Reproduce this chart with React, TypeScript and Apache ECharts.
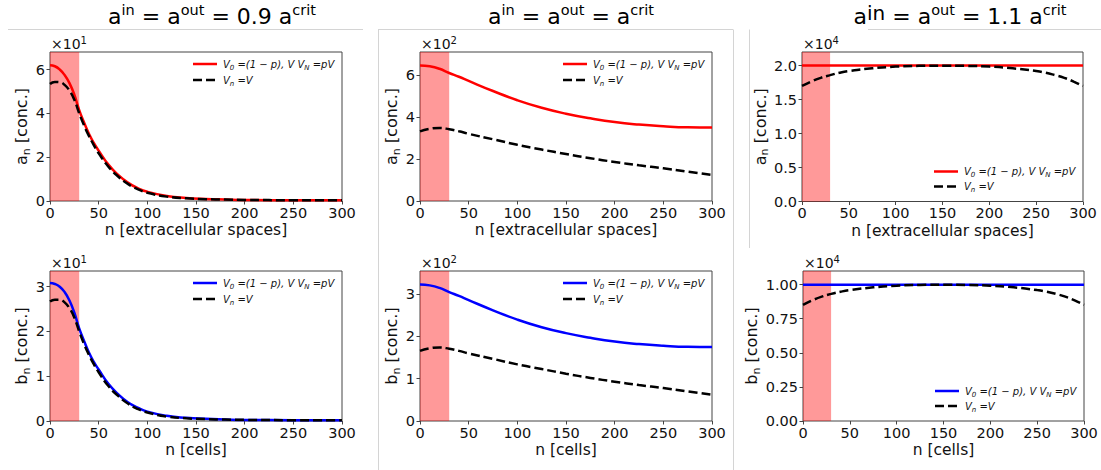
import React, { useEffect, useRef } from 'react';
import * as echarts from 'echarts';

// ---------- data ----------
const xTicks = [0, 50, 100, 150, 200, 250, 300];

// subcritical (0.9 a_crit)
const nSubcrit = [0, 5, 10, 15, 20, 25, 30, 35, 40, 45, 50, 60, 70, 80, 90, 100, 120, 140, 160, 180, 200, 250, 300];
const aSubcritModel = [6.2, 6.15, 6.0, 5.75, 5.38, 4.85, 4.15, 3.58, 3.07, 2.65, 2.3, 1.66, 1.19, 0.84, 0.59, 0.42, 0.23, 0.14, 0.095, 0.07, 0.05, 0.035, 0.03];
const aSubcritUniform = [5.34, 5.43, 5.42, 5.3, 5.04, 4.62, 4.0, 3.45, 2.97, 2.55, 2.18, 1.57, 1.12, 0.78, 0.54, 0.38, 0.2, 0.12, 0.085, 0.065, 0.05, 0.035, 0.03];
const bSubcritModel = [3.08, 3.06, 3.0, 2.88, 2.69, 2.42, 2.07, 1.79, 1.53, 1.32, 1.15, 0.83, 0.6, 0.42, 0.3, 0.21, 0.115, 0.07, 0.048, 0.035, 0.025, 0.018, 0.015];
const bSubcritUniform = [2.67, 2.71, 2.71, 2.65, 2.52, 2.31, 2.0, 1.72, 1.48, 1.27, 1.09, 0.78, 0.56, 0.39, 0.27, 0.19, 0.1, 0.06, 0.042, 0.032, 0.025, 0.018, 0.015];

// critical (a_crit)
const nCrit = [0, 10, 20, 30, 40, 50, 75, 100, 125, 150, 175, 200, 225, 250, 275, 300];
const aCritModel = [6.46, 6.42, 6.3, 6.1, 5.92, 5.72, 5.24, 4.8, 4.44, 4.16, 3.94, 3.76, 3.64, 3.56, 3.51, 3.5];
const aCritUniform = [3.32, 3.44, 3.48, 3.42, 3.32, 3.2, 2.94, 2.68, 2.45, 2.24, 2.04, 1.86, 1.7, 1.56, 1.4, 1.24];
const bCritModel = [3.23, 3.21, 3.15, 3.05, 2.96, 2.86, 2.62, 2.4, 2.22, 2.08, 1.97, 1.88, 1.82, 1.78, 1.755, 1.75];
const bCritUniform = [1.66, 1.72, 1.74, 1.71, 1.66, 1.6, 1.47, 1.34, 1.23, 1.12, 1.02, 0.93, 0.85, 0.78, 0.7, 0.62];

// supercritical (1.1 a_crit)
const nFlat = [0, 300];
const aSupercritModel = [2.0, 2.0];
const bSupercritModel = [1.0, 1.0];
const nSupercrit = [0, 10, 20, 30, 40, 50, 75, 100, 125, 150, 175, 200, 225, 250, 260, 270, 280, 290, 300];
const aSupercritUniform = [1.7, 1.765, 1.82, 1.86, 1.895, 1.92, 1.96, 1.985, 1.996, 1.999, 1.996, 1.985, 1.96, 1.92, 1.895, 1.86, 1.82, 1.765, 1.7];
const bSupercritUniform = [0.852, 0.885, 0.912, 0.932, 0.948, 0.96, 0.98, 0.992, 0.998, 0.9995, 0.998, 0.992, 0.98, 0.96, 0.948, 0.932, 0.912, 0.885, 0.852];

const yTicksA09 = [0, 2, 4, 6];
const yTicksACrit = [0, 2, 4, 6];
const yTicksASup = [0, 0.5, 1.0, 1.5, 2.0];
const yTicksB09 = [0, 1, 2, 3];
const yTicksBCrit = [0, 1, 2, 3];
const yTicksBSup = [0, 0.25, 0.5, 0.75, 1.0];

const sourceRegion = [0, 30];

// ---------- styling ----------
const FONT = 'DejaVu Sans';
const RED = '#ff0000';
const BLUE = '#0000ff';
const TXT = '#111111';
const SPINE = '#444444';
const SEP = '#d4d4d4';

type Panel = {
  n: number[]; model: number[]; nU: number[]; uniform: number[];
  color: string; yMax: number; yTicks: number[]; interval: number; dec: number; exp: string;
  yVar: string; xName: string; legendAt: 'top' | 'bottom';
  box: { left: number; top: number; width: number; height: number }; nameGap: number;
};

const panels: Panel[] = [
  { n: nSubcrit, model: aSubcritModel, nU: nSubcrit, uniform: aSubcritUniform, color: RED, yMax: 6.8, yTicks: yTicksA09, interval: 2, dec: 0, exp: '1', yVar: 'a', xName: 'n [extracellular spaces]', legendAt: 'top', box: { left: 50, top: 52, width: 292, height: 149 }, nameGap: 18 },
  { n: nCrit, model: aCritModel, nU: nCrit, uniform: aCritUniform, color: RED, yMax: 7.1, yTicks: yTicksACrit, interval: 2, dec: 0, exp: '2', yVar: 'a', xName: 'n [extracellular spaces]', legendAt: 'top', box: { left: 420, top: 52, width: 292, height: 149 }, nameGap: 18 },
  { n: nFlat, model: aSupercritModel, nU: nSupercrit, uniform: aSupercritUniform, color: RED, yMax: 2.2, yTicks: yTicksASup, interval: 0.5, dec: 1, exp: '4', yVar: 'a', xName: 'n [extracellular spaces]', legendAt: 'bottom', box: { left: 802, top: 52, width: 281, height: 149.5 }, nameGap: 29 },
  { n: nSubcrit, model: bSubcritModel, nU: nSubcrit, uniform: bSubcritUniform, color: BLUE, yMax: 3.35, yTicks: yTicksB09, interval: 1, dec: 0, exp: '1', yVar: 'b', xName: 'n [cells]', legendAt: 'top', box: { left: 50, top: 271, width: 292, height: 150 }, nameGap: 18 },
  { n: nCrit, model: bCritModel, nU: nCrit, uniform: bCritUniform, color: BLUE, yMax: 3.55, yTicks: yTicksBCrit, interval: 1, dec: 0, exp: '2', yVar: 'b', xName: 'n [cells]', legendAt: 'top', box: { left: 420, top: 271, width: 292, height: 150 }, nameGap: 18 },
  { n: nFlat, model: bSupercritModel, nU: nSupercrit, uniform: bSupercritUniform, color: BLUE, yMax: 1.1, yTicks: yTicksBSup, interval: 0.25, dec: 2, exp: '4', yVar: 'b', xName: 'n [cells]', legendAt: 'bottom', box: { left: 803, top: 271, width: 281, height: 150 }, nameGap: 30 },
];

const titles = [
  { x: 212, text: '{b|a}{s|in}{b| = a}{s|out}{b| = 0.9 a}{s|crit}' },
  { x: 571, text: '{b|a}{s|in}{b| = a}{s|out}{b| = a}{s|crit}' },
  { x: 960, text: '{b|a}{S|in}{b| = a}{s|out}{b| = 1.1 a}{s|crit}' },
];

const legendModelText = '{i|V}{s|0}{i| =(1 − p), V V}{s|N}{i| =pV}';
const legendUniformText = '{i|V}{s|n}{i| =V}';

function buildOption() {
  const grid: any[] = [];
  const xAxis: any[] = [];
  const yAxis: any[] = [];
  const series: any[] = [];
  const graphic: any[] = [];

  panels.forEach((p, i) => {
    grid.push({ ...p.box, show: true, borderColor: SPINE, borderWidth: 1, backgroundColor: 'transparent' });
    xAxis.push({
      type: 'value', gridIndex: i, min: 0, max: 300, interval: 50,
      axisLine: { show: false },
      axisTick: { show: true, length: 3.5, lineStyle: { color: SPINE }, customValues: xTicks },
      axisLabel: { color: TXT, fontFamily: FONT, fontSize: 14.5, margin: 4, customValues: xTicks },
      splitLine: { show: false },
      name: p.xName, nameLocation: 'middle', nameGap: 21,
      nameTextStyle: { color: TXT, fontFamily: FONT, fontSize: 15.5 },
    });
    yAxis.push({
      type: 'value', gridIndex: i, min: 0, max: p.yMax, interval: p.interval,
      axisLine: { show: false },
      axisTick: { show: true, length: 3.5, lineStyle: { color: SPINE }, customValues: p.yTicks },
      axisLabel: {
        color: TXT, fontFamily: FONT, fontSize: 14.5, margin: 5, customValues: p.yTicks,
        formatter: (v: number) => v.toFixed(p.dec),
      },
      splitLine: { show: false },
      name: `{v|${p.yVar}}{s|n}{v| [conc.]}`, nameLocation: 'middle', nameGap: p.nameGap,
      nameTextStyle: {
        color: TXT, fontFamily: FONT, fontSize: 16,
        rich: {
          v: { fontSize: 16, lineHeight: 20, fontFamily: FONT, color: TXT },
          s: { fontSize: 11, lineHeight: 10, verticalAlign: 'bottom', fontFamily: FONT, color: TXT },
        },
      },
    });
    series.push({
      type: 'line', xAxisIndex: i, yAxisIndex: i, z: 2,
      data: p.model.map((v, k) => [p.n[k], v]),
      symbol: 'none', smooth: 0.5,
      lineStyle: { color: p.color, width: 2.5 },
      markArea: {
        silent: true, z: 1,
        itemStyle: { color: 'rgba(255,0,0,0.4)' },
        data: [[{ xAxis: sourceRegion[0] }, { xAxis: sourceRegion[1] }]],
      },
    });
    series.push({
      type: 'line', xAxisIndex: i, yAxisIndex: i, z: 3,
      data: p.uniform.map((v, k) => [p.nU[k], v]),
      symbol: 'none', smooth: 0.5,
      lineStyle: { color: '#000', width: 2.5, type: [9, 4] },
    });

    // offset text ×10^k
    graphic.push({
      type: 'text', x: p.box.left + 1, y: p.box.top - 8,
      style: {
        text: `{m|×10}{e|${p.exp}}`, fill: TXT, verticalAlign: 'middle', align: 'left',
        rich: {
          m: { fontSize: 14, lineHeight: 17, fontFamily: FONT, color: TXT },
          e: { fontSize: 10, lineHeight: 9, verticalAlign: 'top', fontFamily: FONT, color: TXT },
        },
      },
    });

    // legend
    const right = p.box.left + p.box.width;
    const bottom = p.box.top + p.box.height;
    const r1 = p.legendAt === 'top' ? p.box.top + 12 : bottom - 30;
    const r2 = p.legendAt === 'top' ? p.box.top + 28 : bottom - 15;
    const lx1 = right - 149, lx2 = right - 125, tx = right - 119;
    const legRich = {
      i: { fontSize: 10, fontStyle: 'italic', fontFamily: FONT, color: TXT, lineHeight: 14 },
      s: { fontSize: 7, fontStyle: 'italic', fontFamily: FONT, color: TXT, lineHeight: 7, verticalAlign: 'bottom' },
    };
    graphic.push({ type: 'line', shape: { x1: lx1, y1: r1, x2: lx2, y2: r1 }, style: { stroke: p.color, lineWidth: 2.5 } });
    graphic.push({ type: 'line', shape: { x1: lx1, y1: r2, x2: lx2, y2: r2 }, style: { stroke: '#000', lineWidth: 2.5, lineDash: [9, 4] } });
    graphic.push({ type: 'text', x: tx, y: r1, style: { text: legendModelText, rich: legRich, verticalAlign: 'middle', align: 'left', fill: TXT } });
    graphic.push({ type: 'text', x: tx, y: r2, style: { text: legendUniformText, rich: legRich, verticalAlign: 'middle', align: 'left', fill: TXT } });
  });

  // titles
  titles.forEach((t) => {
    graphic.push({
      type: 'text', x: t.x, y: 16,
      style: {
        text: t.text, align: 'center', verticalAlign: 'middle', fill: '#000',
        rich: {
          b: { fontSize: 22, lineHeight: 27, fontFamily: FONT, color: '#000' },
          s: { fontSize: 14.5, lineHeight: 12, verticalAlign: 'top', fontFamily: FONT, color: '#000' },
          S: { fontSize: 20, lineHeight: 14, verticalAlign: 'top', fontFamily: FONT, color: '#000' },
        },
      },
    });
  });

  // separator lines
  const seps = [
    [8, 29.5, 363, 29.5],
    [378, 29.5, 733, 29.5],
    [378.5, 29.5, 378.5, 470],
    [733.5, 29.5, 733.5, 470],
    [868, 29.5, 1101, 29.5],
    [749.5, 29.5, 749.5, 248],
  ];
  seps.forEach(([x1, y1, x2, y2]) => {
    graphic.push({ type: 'line', shape: { x1, y1, x2, y2 }, style: { stroke: SEP, lineWidth: 1 }, z: 0 });
  });

  return {
    animation: false,
    backgroundColor: '#ffffff',
    textStyle: { fontFamily: FONT },
    grid, xAxis, yAxis, series, graphic,
  };
}

export default function App() {
  const ref = useRef<HTMLDivElement>(null);
  useEffect(() => {
    if (!ref.current) return;
    const chart = echarts.init(ref.current, null, { renderer: 'svg' });
    chart.setOption(buildOption() as any);
    return () => chart.dispose();
  }, []);
  return (
    <div
      ref={ref}
      style={{ position: 'fixed', left: 0, top: 0, width: 1101, height: 470, background: '#fff' }}
    />
  );
}
